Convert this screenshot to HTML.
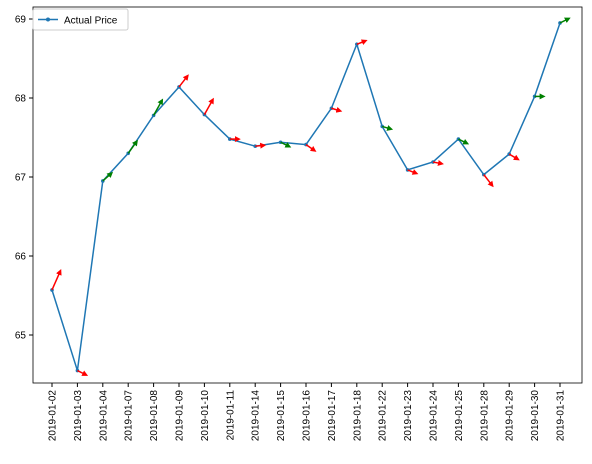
<!DOCTYPE html>
<html><head><meta charset="utf-8"><style>
body{margin:0;background:#fff;font-family:"Liberation Sans","DejaVu Sans",sans-serif}
</style></head><body>
<svg id="chart" width="592" height="459" xmlns="http://www.w3.org/2000/svg">
<defs>
<marker id="mr" viewBox="0 0 10 10" refX="5" refY="5" markerWidth="4" markerHeight="4" orient="auto"><path d="M0,0L10,5L0,10z" fill="red"/></marker>
<marker id="mg" viewBox="0 0 10 10" refX="5" refY="5" markerWidth="4" markerHeight="4" orient="auto"><path d="M0,0L10,5L0,10z" fill="green"/></marker>
</defs>
<rect x="33" y="7" width="549" height="376" fill="none" stroke="#000" stroke-width="0.8"/>
<g id="marks"></g>
<g id="axes"></g>
<g>
<rect x="33" y="9" width="95" height="21" fill="#fff" stroke="#ccc" rx="2"/>
<line x1="38" y1="19.5" x2="58" y2="19.5" stroke="#1f77b4" stroke-width="1.5"/>
<circle cx="48" cy="19.5" r="2" fill="#1f77b4"/>
<text x="64" y="23.5" font-size="10">Actual Price</text>
</g>
</svg>
<script>
const dates=["2019-01-02","2019-01-03","2019-01-04","2019-01-07","2019-01-08","2019-01-09","2019-01-10","2019-01-11","2019-01-14","2019-01-15","2019-01-16","2019-01-17","2019-01-18","2019-01-22","2019-01-23","2019-01-24","2019-01-25","2019-01-28","2019-01-29","2019-01-30","2019-01-31"];
const prices=[65.57,64.55,66.95,67.30,67.78,68.14,67.79,67.48,67.39,67.44,67.41,67.87,68.68,67.64,67.09,67.19,67.48,67.03,67.29,68.02,68.95];
const arrowDelta=[0.23,-0.05,0.09,0.14,0.18,0.13,0.18,0,0.01,-0.05,-0.07,-0.03,0.04,-0.03,-0.04,-0.02,-0.05,-0.13,-0.06,0,0.05];
const arrowColor=["red","red","green","green","green","red","red","red","red","green","red","red","red","green","red","red","green","red","red","green","green"];
const yTicks=[65,66,67,68,69];
const NS="http://www.w3.org/2000/svg";
const xS=i=>52+i*(560-52)/(dates.length-1);
const yS=v=>335-(v-65)*79;
const marks=document.getElementById('marks'),axes=document.getElementById('axes');
function mk(t,a,p){const e=document.createElementNS(NS,t);for(const k in a)e.setAttribute(k,a[k]);p.appendChild(e);return e;}
const line=mk('polyline',{points:prices.map((v,i)=>xS(i)+','+yS(v)).join(' '),fill:'none',stroke:'#1f77b4','stroke-width':1.5},marks);


prices.forEach((v,i)=>{
 const c=mk('circle',{cx:xS(i),cy:yS(v),r:1.8,fill:'#1f77b4'},marks);
 
 
 const a=mk('line',{x1:xS(i),y1:yS(v),x2:xS(i)+8,y2:yS(v+arrowDelta[i]),stroke:arrowColor[i],'stroke-width':1.5,'marker-end':arrowColor[i]=='red'?'url(#mr)':'url(#mg)'},marks);
 
 
});
yTicks.forEach(t=>{
 mk('line',{x1:29,x2:33,y1:yS(t),y2:yS(t),stroke:'#000'},axes);
 const tx=mk('text',{x:26,y:yS(t)+3.5,'font-size':10,'text-anchor':'end'},axes);tx.textContent=t;
 
 
});
dates.forEach((d,i)=>{
 mk('line',{x1:xS(i),x2:xS(i),y1:383,y2:387,stroke:'#000'},axes);
 const tx=mk('text',{x:0,y:0,'font-size':10,'text-anchor':'end',transform:`translate(${xS(i)+3.5},390) rotate(-90)`},axes);tx.textContent=d;
 
 
});
</script>
</body></html>
